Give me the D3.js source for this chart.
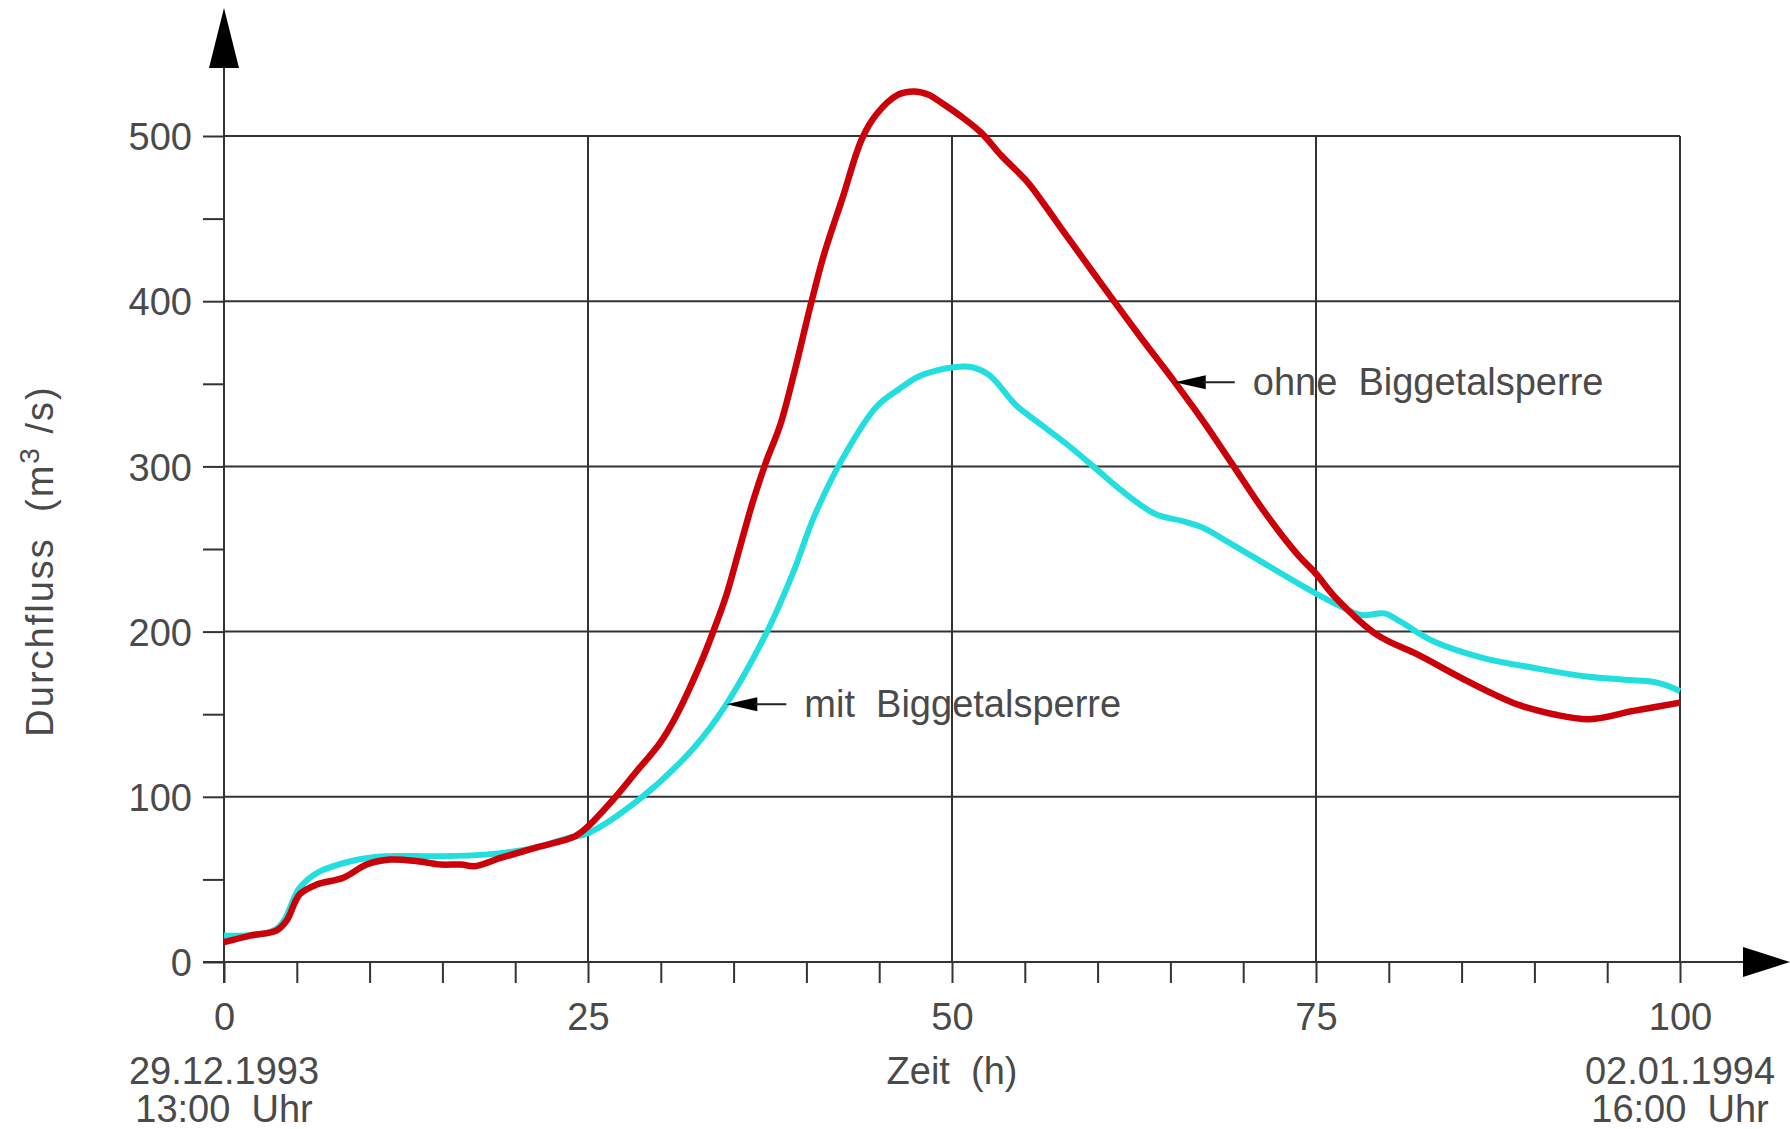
<!DOCTYPE html>
<html>
<head>
<meta charset="utf-8">
<script src="https://cdn.jsdelivr.net/npm/d3@7"></script>
<style>
  html, body { margin: 0; padding: 0; background: #fff; }
  svg { display: block; }
  text { font-family: "Liberation Sans", Arial, sans-serif; fill: #4a4a4a; white-space: pre; }
</style>
</head>
<body>
<svg id="chart" width="1790" height="1129"></svg>
<script>
// ---- Data ----
const ohneHours  = [0, 1.8, 3.6, 4.3, 5.2, 6.4, 8.2, 9.8, 11.4, 13.3, 14.9, 16.3, 17.2, 19, 21.3, 24.1, 25, 26.7, 28.3, 29.9, 31, 32.7, 33.6, 34.5, 35.4, 36.3, 37.2, 38.2, 39.2, 40.3, 41.2, 42.5, 43.8, 44.8, 46.3, 47.4, 48.4, 49.3, 50.6, 52, 53.4, 55.2, 56.3, 58, 60.3, 62.8, 65.3, 67.2, 69.2, 71.5, 73.8, 75, 76.3, 79.2, 82, 85.4, 88.8, 91.3, 93.8, 96.8, 100];
const ohneValues = [12, 16, 19, 25, 41, 47, 51, 59, 62, 61, 59, 59, 58, 63, 69, 76, 82, 98, 115, 132, 148, 180, 200, 222, 250, 278, 302, 325, 358, 398, 428, 463, 498, 513, 525, 527, 525, 520, 512, 502, 488, 472, 459, 438, 410, 380, 351, 328, 302, 272, 246, 235, 221, 198, 186, 170, 156, 150, 147, 152, 157];

const mitHours  = [0, 3.6, 5.2, 6.4, 8.7, 11, 14.4, 17.9, 21.3, 23.6, 25, 28.6, 32.2, 34.5, 37.3, 39.1, 40.5, 42.5, 44.8, 46.4, 47.6, 48.9, 50.1, 51.4, 52.6, 54.4, 56, 57.8, 59.7, 61.7, 64, 65.8, 67.2, 69.2, 71.5, 73.8, 75, 76.3, 78.1, 79.7, 80.8, 83.1, 86.5, 90, 93.4, 96, 98.5, 100];
const mitValues = [16, 20, 45, 54, 61, 64, 64, 65, 69, 75, 78, 99, 129, 156, 200, 236, 269, 305, 336, 347, 354, 358, 360, 360, 355, 337, 326, 314, 300, 285, 271, 267, 263, 253, 241, 229, 223, 217, 210, 211, 206, 194, 184, 178, 173, 171, 169, 164];

const xMajorTicks = [0, 25, 50, 75, 100];
const xMinorTicks = [5, 10, 15, 20, 30, 35, 40, 45, 55, 60, 65, 70, 80, 85, 90, 95];
const yMajorTicks = [0, 100, 200, 300, 400, 500];
const yMinorTicks = [50, 150, 250, 350, 450];

const xTitle = "Zeit  (h)";
const yTitleParts = ["Durchfluss  (m", "3", " /s)"];
const startLabel = ["29.12.1993", "13:00  Uhr"];
const endLabel = ["02.01.1994", "16:00  Uhr"];

const annotations = [
  { text: "ohne  Biggetalsperre", hour: 65.3, value: 351 },
  { text: "mit  Biggetalsperre", hour: 34.5, value: 156 }
];

// ---- Scales ----
const x = d3.scaleLinear().domain([0, 100]).range([224, 1680]);
const y = d3.scaleLinear().domain([0, 500]).range([962, 136]);

const svg = d3.select("#chart");
const gridColor = "#333";
const tickLen = 21;
const fontStack = '"Liberation Sans", Arial, sans-serif';

// Horizontal grid lines (100..500)
svg.append("g").selectAll("line")
  .data(yMajorTicks.filter(v => v > 0))
  .join("line")
  .attr("x1", x(0)).attr("x2", x(100))
  .attr("y1", d => y(d)).attr("y2", d => y(d))
  .attr("stroke", gridColor).attr("stroke-width", 2);

// Vertical grid lines (25..100)
svg.append("g").selectAll("line")
  .data(xMajorTicks.filter(v => v > 0))
  .join("line")
  .attr("x1", d => x(d)).attr("x2", d => x(d))
  .attr("y1", y(500)).attr("y2", y(0))
  .attr("stroke", gridColor).attr("stroke-width", 2);

// Y axis (major ticks + labels)
const yAxis = svg.append("g")
  .attr("transform", `translate(${x(0)},0)`)
  .call(d3.axisLeft(y).tickValues(yMajorTicks).tickSize(tickLen).tickPadding(11).tickFormat(d3.format("d")));
yAxis.select(".domain").remove();
yAxis.selectAll(".tick line").attr("stroke", gridColor).attr("stroke-width", 2);
yAxis.selectAll(".tick text").attr("font-size", 38).attr("fill", "#4a4a4a")
  .style("font-family", fontStack).attr("dy", "0.36em");

// Y minor ticks
const yMinor = svg.append("g")
  .attr("transform", `translate(${x(0)},0)`)
  .call(d3.axisLeft(y).tickValues(yMinorTicks).tickSize(tickLen).tickFormat(""));
yMinor.select(".domain").remove();
yMinor.selectAll(".tick line").attr("stroke", gridColor).attr("stroke-width", 2);

// X axis (major ticks + labels)
const xAxis = svg.append("g")
  .attr("transform", `translate(0,${y(0)})`)
  .call(d3.axisBottom(x).tickValues(xMajorTicks).tickSize(tickLen).tickPadding(20).tickFormat(d3.format("d")));
xAxis.select(".domain").remove();
xAxis.selectAll(".tick line").attr("stroke", gridColor).attr("stroke-width", 2);
xAxis.selectAll(".tick text").attr("font-size", 38).attr("fill", "#4a4a4a")
  .style("font-family", fontStack);

// X minor ticks
const xMinor = svg.append("g")
  .attr("transform", `translate(0,${y(0)})`)
  .call(d3.axisBottom(x).tickValues(xMinorTicks).tickSize(tickLen).tickFormat(""));
xMinor.select(".domain").remove();
xMinor.selectAll(".tick line").attr("stroke", gridColor).attr("stroke-width", 2);

// Axis lines with arrows
svg.append("line")
  .attr("x1", x(0) - tickLen).attr("x2", 1743)
  .attr("y1", y(0)).attr("y2", y(0))
  .attr("stroke", gridColor).attr("stroke-width", 2);
svg.append("path")
  .attr("d", `M1743,${y(0) - 15} L1790,${y(0)} L1743,${y(0) + 15} Z`)
  .attr("fill", "#000");

svg.append("line")
  .attr("x1", x(0)).attr("x2", x(0))
  .attr("y1", 68).attr("y2", y(0) + tickLen)
  .attr("stroke", gridColor).attr("stroke-width", 2);
svg.append("path")
  .attr("d", `M${x(0) - 15},68 L${x(0)},8 L${x(0) + 15},68 Z`)
  .attr("fill", "#000");

// Curves
const line = d3.line()
  .x(d => x(d[0]))
  .y(d => y(d[1]))
  .curve(d3.curveCatmullRom.alpha(0.5));

const mitData = mitHours.map((h, i) => [h, mitValues[i]]);
const ohneData = ohneHours.map((h, i) => [h, ohneValues[i]]);

svg.append("path")
  .datum(mitData)
  .attr("d", line)
  .attr("fill", "none")
  .attr("stroke", "#22dede")
  .attr("stroke-width", 6)
  .attr("stroke-linejoin", "round");

svg.append("path")
  .datum(ohneData)
  .attr("d", line)
  .attr("fill", "none")
  .attr("stroke", "#cc0008")
  .attr("stroke-width", 6.5)
  .attr("stroke-linejoin", "round");

// Annotations
annotations.forEach(a => {
  const tx = x(a.hour), ty = y(a.value);
  svg.append("path")
    .attr("d", `M${tx},${ty} L${tx + 31},${ty - 7} L${tx + 31},${ty + 7} Z`)
    .attr("fill", "#000");
  svg.append("line")
    .attr("x1", tx + 28).attr("x2", tx + 60)
    .attr("y1", ty).attr("y2", ty)
    .attr("stroke", "#222").attr("stroke-width", 2);
  svg.append("text")
    .attr("x", tx + 78).attr("y", ty + 13)
    .attr("font-size", 38)
    .text(a.text);
});

// Axis titles and date labels
svg.append("text")
  .attr("x", x(50)).attr("y", 1084)
  .attr("text-anchor", "middle").attr("font-size", 38)
  .text(xTitle);

const yt = svg.append("text")
  .attr("transform", `translate(53,${(y(0) + y(500)) / 2 + 12}) rotate(-90)`)
  .attr("text-anchor", "middle").attr("font-size", 38)
  .attr("letter-spacing", 2);
yt.append("tspan").text(yTitleParts[0]);
yt.append("tspan").attr("dy", -14).attr("font-size", 28).text(yTitleParts[1]);
yt.append("tspan").attr("dy", 14).text(yTitleParts[2]);

[[0, startLabel], [100, endLabel]].forEach(([h, lines]) => {
  lines.forEach((t, i) => {
    svg.append("text")
      .attr("x", x(h)).attr("y", 1084 + i * 38)
      .attr("text-anchor", "middle").attr("font-size", 38)
      .text(t);
  });
});
</script>
</body>
</html>
